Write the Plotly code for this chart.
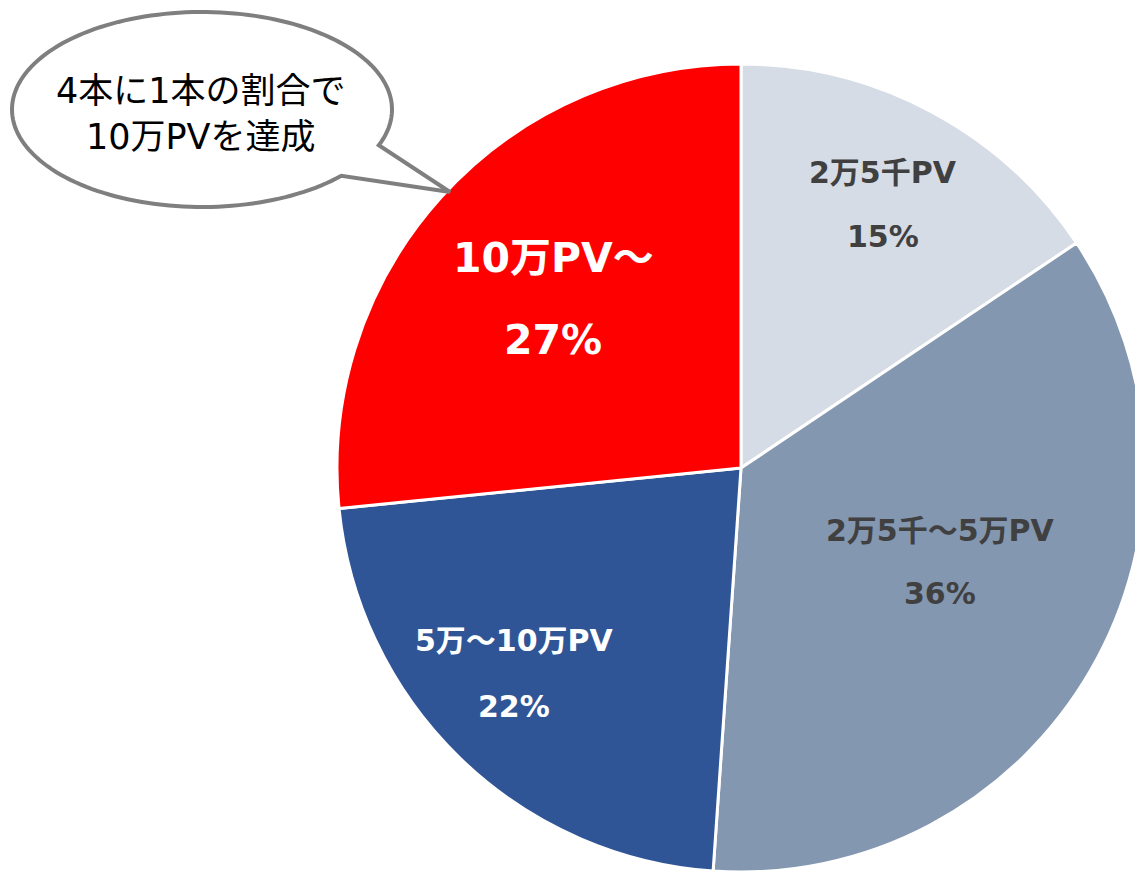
import math
import plotly.graph_objects as go

# ---- data ----
categories = ["2万5千PV", "2万5千～5万PV", "5万～10万PV", "10万PV～"]
shares = [15.6, 35.5, 22.3, 26.6]
share_labels = ["15%", "36%", "22%", "27%"]
callout_lines = ["4本に1本の割合で", "10万PVを達成"]

# ---- style ----
slice_colors = ["#D6DCE5", "#8497B0", "#2F5597", "#FF0000"]
label_colors = ["#404040", "#404040", "#FFFFFF", "#FFFFFF"]
label_sizes = [30, 30, 30, 41]
# label centres in pixels: (x, y_name, y_pct)
label_pos = [(883, 172, 236), (940, 530, 593), (514, 640, 706), (553, 258, 340)]

W, H = 1150, 875
CX, CY, R = 741, 468, 404

def px(x):
    return x / W

def py(y):
    return 1 - y / H

fig = go.Figure(go.Pie(
    labels=categories,
    values=shares,
    sort=False,
    direction="clockwise",
    rotation=0,
    marker=dict(colors=slice_colors, line=dict(color="white", width=3)),
    textinfo="none",
    hoverinfo="skip",
    showlegend=False,
    domain=dict(x=[px(CX - R), px(CX + R)], y=[py(CY + R), py(CY - R)]),
))

FONT = "DejaVu Sans, Noto Sans CJK JP, sans-serif"
annotations = []
for cat, pct, col, size, (x, yn, yp) in zip(categories, share_labels, label_colors, label_sizes, label_pos):
    annotations.append(dict(x=px(x), y=py(yn), xref="paper", yref="paper", text="<b>%s</b>" % cat,
                            showarrow=False, xanchor="center", yanchor="middle",
                            font=dict(family=FONT, size=size, color=col)))
    annotations.append(dict(x=px(x), y=py(yp), xref="paper", yref="paper", text="<b>%s</b>" % pct,
                            showarrow=False, xanchor="center", yanchor="middle",
                            font=dict(family=FONT, size=size, color=col)))

# speech bubble
ex, ey, rx, ry = 202, 109.5, 190, 97.5
a_start = math.radians(42.8)
a_end = math.radians(360 + 21.5)
n = 160
pts = []
for i in range(n + 1):
    a = a_start + (a_end - a_start) * i / n
    pts.append((ex + rx * math.cos(a), ey + ry * math.sin(a)))
pts.append((450, 192))
path = "M " + " L ".join("%.5f,%.5f" % (px(x), py(y)) for x, y in pts) + " Z"

shapes = [dict(type="path", path=path, xref="paper", yref="paper",
               fillcolor="white", line=dict(color="#7F7F7F", width=4), layer="above")]

annotations.append(dict(x=px(201), y=py(114), xref="paper", yref="paper",
                        text="<br>".join(callout_lines), showarrow=False,
                        xanchor="center", yanchor="middle", align="center",
                        font=dict(family="DejaVu Sans, Noto Sans CJK JP, sans-serif", size=35, color="#000000")))

fig.update_layout(
    width=W, height=H,
    margin=dict(l=0, r=0, t=0, b=0),
    paper_bgcolor="white", plot_bgcolor="white",
    annotations=annotations,
    shapes=shapes,
)

fig.write_html("out.html", config={"displayModeBar": False}, post_script=(
    "document.body.style.margin='0';"
    "document.body.style.overflow='hidden';"
    "document.documentElement.style.overflow='hidden';"))
